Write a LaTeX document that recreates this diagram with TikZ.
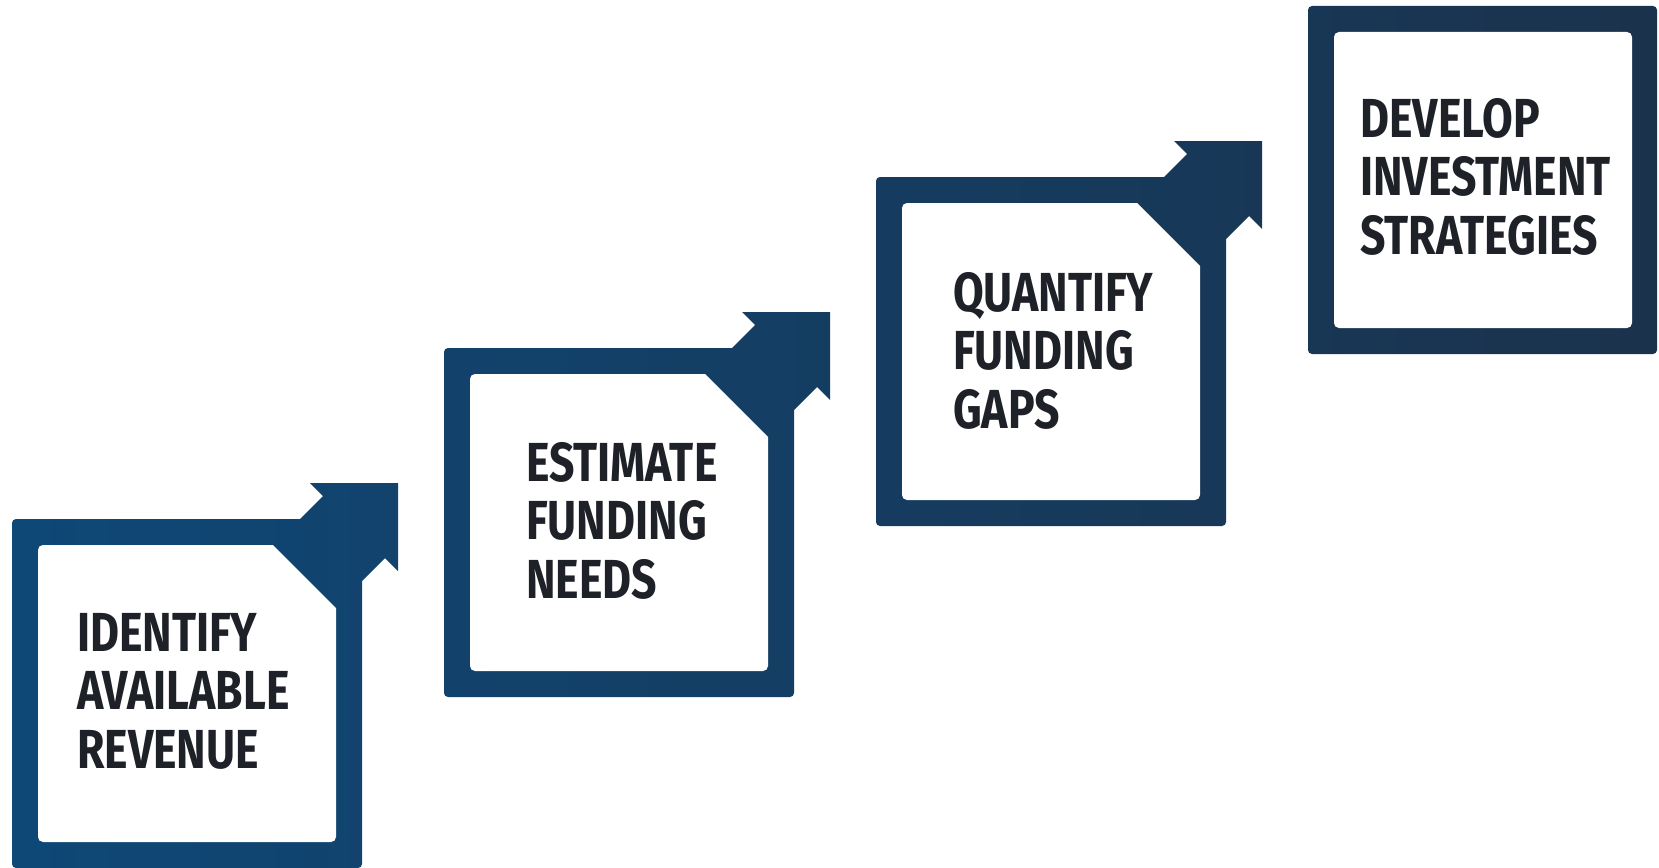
\documentclass[tikz,border=0pt]{standalone}
\usepackage{fontspec}
\newfontfamily\stepfont{Fira Sans}[FakeStretch=0.81]
\definecolor{navyL}{HTML}{0E4877}
\definecolor{navyR}{HTML}{1B324C}
\definecolor{ink}{HTML}{1E2228}
\tikzset{
  steptext/.style={anchor=north west, inner sep=0pt, align=left, text=ink,
    font=\stepfont\bfseries\fontsize{55}{58.5}\selectfont},
  innerbox/.style={fill=white},
  navyshade/.style={left color=navyL, right color=navyR},
}
\begin{document}
\begin{tikzpicture}[x=1pt,y=-1pt]
\useasboundingbox (0,0) rectangle (1659,867);
% dark frames with arrows (one shading across the whole row)
\shade[navyshade]
  \foreach \X/\Y in {12/519, 444/348, 876/177}{
    (\X+0,\Y+175) [rounded corners=4pt] -- (\X+0,\Y+0)
    [sharp corners] -- (\X+288,\Y+0)
    -- (\X+311,\Y-23) -- (\X+298,\Y-36) -- (\X+386,\Y-36)
    -- (\X+386,\Y+52) -- (\X+373,\Y+39) -- (\X+350,\Y+62)
    [rounded corners=4pt] -- (\X+350,\Y+349) -- (\X+0,\Y+349) -- cycle
  }
  [rounded corners=4pt] (1308,6) rectangle (1657,354);
% white inner panels
\foreach \X/\Y in {12/519, 444/348, 876/177}{
  \fill[innerbox] (\X+26,\Y+175) [rounded corners=5pt] -- (\X+26,\Y+26)
    [sharp corners] -- (\X+261,\Y+26) -- (\X+324,\Y+89)
    [rounded corners=5pt] -- (\X+324,\Y+323) -- (\X+26,\Y+323) -- cycle;
}
\fill[innerbox, rounded corners=5pt] (1334,32) rectangle (1632,328);
% labels
\node[steptext] (s1) at (77,613) {IDENTIFY\\AVAILABLE\\REVENUE};
\node[steptext] (s2) at (526,442) {ESTIMATE\\FUNDING\\NEEDS};
\node[steptext] (s3) at (953,272) {QUANTIFY\\FUNDING\\GAPS};
\node[steptext] (s4) at (1360,98) {DEVELOP\\INVESTMENT\\STRATEGIES};
\end{tikzpicture}
\end{document}
